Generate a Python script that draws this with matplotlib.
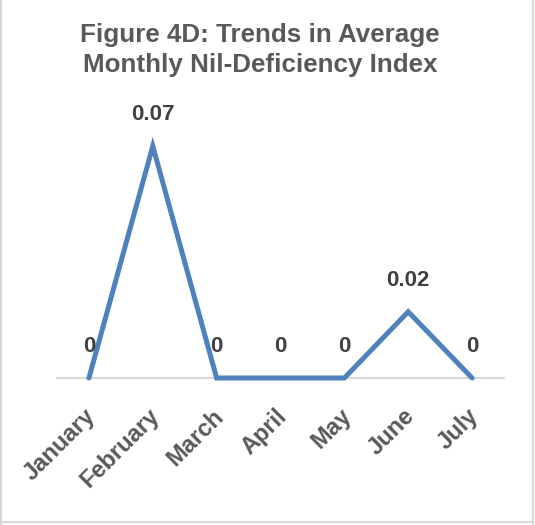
import matplotlib.pyplot as plt
import matplotlib.transforms as mtransforms
from matplotlib.lines import Line2D

# monthly index values
months = ["January", "February", "March", "April", "May", "June", "July"]
index_values = [0, 0.07, 0, 0, 0, 0.02, 0]
value_labels = ["0", "0.07", "0", "0", "0", "0.02", "0"]

plt.rcParams['font.family'] = ['Liberation Sans', 'DejaVu Sans']

fig = plt.figure(figsize=(5.35, 5.25), dpi=100)
ax = fig.add_axes([57 / 535, 1 - 378 / 525, 447 / 535, 265 / 525])

x = list(range(len(months)))
ax.plot(x, index_values, color="#4F81BD", linewidth=3.6, solid_joinstyle="miter",
        solid_capstyle="round", clip_on=False, zorder=3)

for xi, v, lab in zip(x, index_values, value_labels):
    ax.annotate(lab, (xi, v), xytext=(0, 22.5), textcoords="offset points",
                ha="center", va="center", fontsize=16, fontweight="bold",
                color="#404040", zorder=4)

ax.set_xlim(-0.5, len(months) - 0.5)
ax.set_ylim(0, 0.08)
ax.set_xticks(x)
ax.set_xticklabels(months, rotation=45, ha="right", va="top",
                   rotation_mode="anchor", fontsize=17, fontweight="bold",
                   color="#595959")
ax.tick_params(axis="x", length=0, pad=19)
# nudge month labels a little to the left
shift = mtransforms.ScaledTranslation(-5 / 100, 0, fig.dpi_scale_trans)
for lbl in ax.get_xticklabels():
    lbl.set_transform(lbl.get_transform() + shift)
ax.set_yticks([])
for side in ["top", "left", "right"]:
    ax.spines[side].set_visible(False)
ax.spines["bottom"].set_color("#D9D9D9")
ax.spines["bottom"].set_linewidth(1.5)

fig.text(260 / 535, 1 - 50 / 525, "Figure 4D: Trends in Average\nMonthly Nil-Deficiency Index",
         ha="center", va="center", fontsize=18.7, fontweight="bold",
         color="#595959", linespacing=1.33)

# chart frame
frame = dict(color="#D9D9D9", linewidth=1.5, transform=fig.transFigure)
fig.add_artist(Line2D([0.8 / 535, 0.8 / 535], [0, 1], **frame))
fig.add_artist(Line2D([532.5 / 535, 532.5 / 535], [0, 1], **frame))
fig.add_artist(Line2D([0, 533 / 535], [1 - 521.5 / 525, 1 - 521.5 / 525], **frame))

fig.savefig("out.png", dpi=100)
